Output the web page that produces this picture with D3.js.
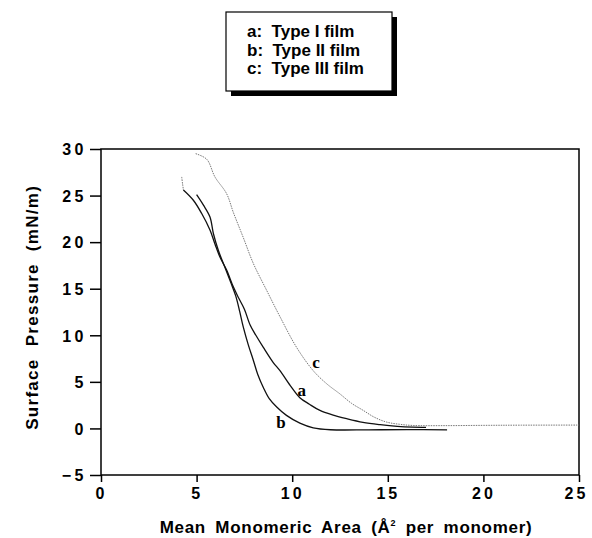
<!DOCTYPE html>
<html>
<head>
<meta charset="utf-8">
<script src="https://cdn.jsdelivr.net/npm/d3@7"></script>
<style>
  body { margin: 0; background: #fff; }
  text { font-family: "Liberation Sans", Arial, sans-serif; font-weight: bold; fill: #000; }
</style>
</head>
<body>
<svg id="chart" width="592" height="538"></svg>
<script>
// legend lines
const legendLines = ['a:  Type I film', 'b:  Type II film', 'c:  Type III film'];

// isotherms [area (Å² per monomer), surface pressure (mN/m)]
const curveATop = [[4.22, 27.0], [4.27, 26.2], [4.31, 25.6]];
const curveA = [[4.31, 25.6], [4.83, 24.5], [5.26, 23.1], [5.7, 21.3], [5.96, 19.8], [6.22, 18.4], [6.57, 17.0],
  [6.92, 15.2], [7.2, 14.0], [7.5, 12.8], [7.8, 11.1], [8.1, 10.0], [8.49, 8.7], [9.0, 7.1], [9.36, 6.2], [9.9, 4.6],
  [10.4, 3.3], [10.9, 2.6], [11.45, 1.93], [12.1, 1.45], [12.85, 1.04], [13.7, 0.65], [14.6, 0.4], [15.5, 0.22], [16.3, 0.14], [17.0, 0.12]];
const curveB = [[5.0, 25.1], [5.35, 24.0], [5.7, 22.7], [5.88, 20.9], [6.14, 19.1], [6.48, 17.3], [6.8, 15.6], [7.05, 14.2],
  [7.25, 12.6], [7.44, 10.9], [7.7, 9.0], [7.97, 7.3], [8.2, 5.8], [8.49, 4.4], [8.8, 3.2], [9.19, 2.3], [9.7, 1.4],
  [10.4, 0.57], [11.1, 0.07], [12.0, -0.14], [14.0, -0.15], [16.0, -0.13], [18.1, -0.15]];
const curveC = [[4.95, 29.5], [5.53, 28.9], [5.96, 27.0], [6.57, 25.2], [6.92, 23.2], [7.44, 20.5], [7.97, 17.7],
  [8.67, 14.8], [9.36, 12.0], [10.23, 8.7], [11.1, 6.2], [11.8, 4.8], [12.5, 3.7], [13.1, 2.7], [13.72, 1.93],
  [14.3, 1.2], [14.94, 0.68], [15.6, 0.45], [16.3, 0.32], [18.0, 0.3], [20.0, 0.33], [22.0, 0.35], [25.0, 0.36]];

// curve labels [area, pressure]
const curveLabels = [{ t: 'a', v: [10.5, 3.5] }, { t: 'b', v: [9.41, 0.0] }, { t: 'c', v: [11.24, 6.5] }];

const xTicks = [0, 5, 10, 15, 20, 25];
const yTicks = [-5, 0, 5, 10, 15, 20, 25, 30];

const svg = d3.select('#chart');
const margin = { left: 101, right: 13, top: 149, bottom: 63 };
const width = 592 - margin.left - margin.right;
const height = 538 - margin.top - margin.bottom;

const x = d3.scaleLinear().domain([0, 25]).range([0, width]);
const y = d3.scaleLinear().domain([-5, 30]).range([height, 0]);

const g = svg.append('g').attr('transform', `translate(${margin.left},${margin.top})`);

// frame
g.append('rect')
  .attr('width', width).attr('height', height)
  .attr('fill', 'none').attr('stroke', '#000').attr('stroke-width', 1.5);

// y axis
const yAxis = g.append('g')
  .call(d3.axisLeft(y).tickValues(yTicks).tickSize(11).tickPadding(3).tickFormat(d3.format('d')));
yAxis.select('.domain').remove();
yAxis.selectAll('line').attr('stroke-width', 1.5);
yAxis.selectAll('text').style('font-size', '16px').style('letter-spacing', '3.5px').attr('dy', '0.36em');

// x axis
const xAxis = g.append('g')
  .attr('transform', `translate(0,${height})`)
  .call(d3.axisBottom(x).tickValues(xTicks).tickSize(7).tickPadding(6).tickFormat(d3.format('d')));
xAxis.select('.domain').remove();
xAxis.selectAll('line').attr('stroke-width', 1.5);
xAxis.selectAll('text').style('font-size', '16px').style('letter-spacing', '3px');
xAxis.selectAll('.tick').filter(d => d === 25).select('text').attr('dx', '-3px');

// axis titles
svg.append('text')
  .attr('x', 346).attr('y', 533)
  .attr('text-anchor', 'middle')
  .style('font-size', '17px').style('letter-spacing', '0.7px').style('word-spacing', '4px')
  .html('Mean Monomeric Area (Å<tspan dy="-7" style="font-size:9px">2</tspan><tspan dy="7"> per monomer)</tspan>');

svg.append('text')
  .attr('transform', `translate(38,${margin.top + y(13)}) rotate(-90)`)
  .attr('text-anchor', 'middle')
  .style('font-size', '17px').style('letter-spacing', '1.3px').style('word-spacing', '6px')
  .text('Surface Pressure (mN/m)');

// curves
const line = d3.line().x(d => x(d[0])).y(d => y(d[1])).curve(d3.curveCatmullRom);

g.append('path').datum(curveC)
  .attr('d', line).attr('fill', 'none')
  .attr('stroke', '#777').attr('stroke-width', 1).attr('stroke-dasharray', '1.5,1');
g.append('path').datum(curveATop)
  .attr('d', line).attr('fill', 'none')
  .attr('stroke', '#777').attr('stroke-width', 1).attr('stroke-dasharray', '1.5,1');
g.append('path').datum(curveA)
  .attr('d', line).attr('fill', 'none')
  .attr('stroke', '#111').attr('stroke-width', 1.3);
g.append('path').datum(curveB)
  .attr('d', line).attr('fill', 'none')
  .attr('stroke', '#111').attr('stroke-width', 1.3);

g.selectAll('.clabel')
  .data(curveLabels)
  .enter()
  .append('text')
    .attr('class', 'clabel')
    .attr('x', d => x(d.v[0]))
    .attr('y', d => y(d.v[1]))
    .attr('text-anchor', 'middle')
    .style('font-family', '"Liberation Serif", "Times New Roman", serif')
    .style('font-size', '17px')
    .text(d => d.t);

// legend box with shadow
const legend = svg.append('g').attr('transform', 'translate(226,12)');
legend.append('rect')
  .attr('x', 5).attr('y', 5).attr('width', 166).attr('height', 79)
  .attr('fill', '#000');
legend.append('rect')
  .attr('width', 166).attr('height', 79)
  .attr('fill', '#fff').attr('stroke', '#000').attr('stroke-width', 1.2);
legend.selectAll('.ltext')
  .data(legendLines)
  .enter()
  .append('text')
    .attr('class', 'ltext')
    .attr('x', 21)
    .attr('y', (d, i) => 25 + i * 18.5)
    .attr('xml:space', 'preserve')
    .style('white-space', 'pre')
    .style('font-size', '17px')
    .text(d => d);
</script>
</body>
</html>
